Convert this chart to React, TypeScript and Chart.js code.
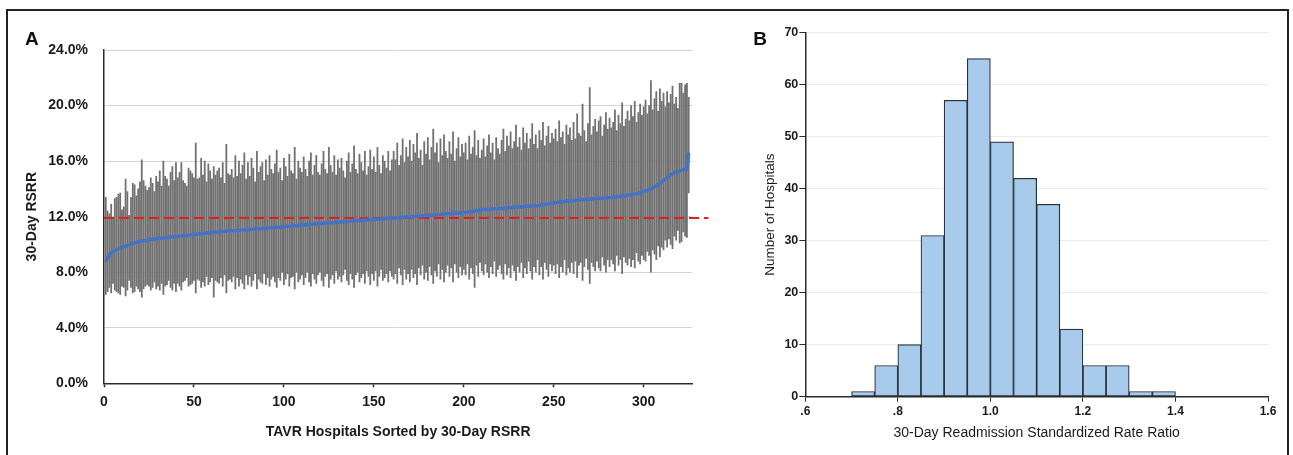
import React, { useEffect, useRef } from 'react';
import { Chart, registerables } from 'chart.js';

Chart.register(...registerables);

// ---------- Panel A: hospital RSRR (sorted) with 95% intervals ----------
const HOSPITAL_RSRR = [
  8.75, 9.05, 9.25, 9.38, 9.48, 9.56, 9.62, 9.68, 9.74, 9.79,
  9.84, 9.88, 9.93, 9.97, 10.02, 10.06, 10.10, 10.14, 10.18, 10.21,
  10.24, 10.26, 10.28, 10.30, 10.32, 10.34, 10.36, 10.38, 10.40, 10.42,
  10.44, 10.45, 10.47, 10.48, 10.50, 10.51, 10.53, 10.54, 10.56, 10.57,
  10.58, 10.60, 10.61, 10.62, 10.64, 10.65, 10.67, 10.68, 10.70, 10.72,
  10.73, 10.75, 10.76, 10.78, 10.79, 10.81, 10.82, 10.83, 10.85, 10.86,
  10.87, 10.88, 10.89, 10.90, 10.91, 10.93, 10.94, 10.95, 10.96, 10.97,
  10.98, 10.99, 11.00, 11.01, 11.02, 11.03, 11.04, 11.05, 11.06, 11.07,
  11.08, 11.09, 11.10, 11.11, 11.12, 11.13, 11.14, 11.15, 11.16, 11.17,
  11.18, 11.19, 11.20, 11.21, 11.22, 11.23, 11.24, 11.25, 11.27, 11.28,
  11.29, 11.30, 11.31, 11.33, 11.34, 11.35, 11.36, 11.37, 11.39, 11.40,
  11.41, 11.42, 11.43, 11.44, 11.45, 11.46, 11.47, 11.48, 11.49, 11.50,
  11.51, 11.52, 11.53, 11.54, 11.55, 11.56, 11.57, 11.58, 11.59, 11.60,
  11.61, 11.62, 11.63, 11.64, 11.65, 11.66, 11.67, 11.68, 11.69, 11.70,
  11.71, 11.72, 11.73, 11.74, 11.75, 11.76, 11.77, 11.78, 11.79, 11.80,
  11.81, 11.82, 11.82, 11.83, 11.84, 11.85, 11.86, 11.87, 11.88, 11.89,
  11.90, 11.91, 11.92, 11.93, 11.94, 11.95, 11.96, 11.97, 11.98, 11.99,
  12.00, 12.01, 12.02, 12.03, 12.04, 12.05, 12.06, 12.07, 12.08, 12.09,
  12.10, 12.11, 12.12, 12.13, 12.14, 12.15, 12.16, 12.17, 12.18, 12.19,
  12.20, 12.21, 12.22, 12.23, 12.24, 12.25, 12.26, 12.27, 12.28, 12.29,
  12.30, 12.32, 12.34, 12.36, 12.38, 12.40, 12.42, 12.44, 12.46, 12.48,
  12.50, 12.51, 12.52, 12.53, 12.54, 12.55, 12.56, 12.57, 12.58, 12.59,
  12.60, 12.61, 12.62, 12.63, 12.64, 12.65, 12.66, 12.67, 12.68, 12.69,
  12.70, 12.71, 12.72, 12.73, 12.74, 12.75, 12.76, 12.77, 12.78, 12.79,
  12.80, 12.82, 12.84, 12.86, 12.88, 12.90, 12.92, 12.94, 12.96, 12.98,
  13.00, 13.02, 13.04, 13.06, 13.08, 13.10, 13.12, 13.14, 13.15, 13.16,
  13.17, 13.18, 13.19, 13.20, 13.21, 13.22, 13.23, 13.24, 13.25, 13.26,
  13.27, 13.28, 13.29, 13.30, 13.31, 13.32, 13.33, 13.34, 13.35, 13.36,
  13.37, 13.38, 13.39, 13.40, 13.42, 13.44, 13.46, 13.48, 13.50, 13.52,
  13.54, 13.56, 13.58, 13.60, 13.63, 13.66, 13.69, 13.72, 13.76, 13.80,
  13.85, 13.90, 13.96, 14.02, 14.08, 14.15, 14.22, 14.30, 14.40, 14.50,
  14.60, 14.70, 14.80, 14.90, 15.00, 15.08, 15.14, 15.20, 15.25, 15.30,
  15.33, 15.36, 15.40, 15.45, 16.60,
];

const CI_UPPER = [
  13.4, 12.4, 12.2, 12.9, 11.9, 13.3, 13.4, 13.6, 13.7, 12.5,
  12.7, 14.7, 13.8, 12.1, 13.4, 14.4, 14.3, 13.5, 14.0, 14.5,
  16.1, 14.6, 14.2, 13.9, 14.1, 14.8, 14.4, 13.8, 14.9, 14.5,
  15.3, 14.2, 16.0, 14.9, 14.7, 14.2, 15.2, 15.6, 14.6, 15.9,
  14.8, 15.2, 15.9, 14.6, 14.4, 14.2, 15.5, 15.3, 15.1, 14.8,
  17.3, 14.7, 14.8, 16.2, 15.0, 16.0, 14.5, 15.8, 15.3, 14.7,
  15.6, 15.0, 15.3, 15.5, 14.8, 15.9, 14.4, 17.2, 15.1, 15.0,
  15.4, 14.8, 16.4, 14.9, 16.0, 15.1, 15.7, 16.6, 14.7, 15.9,
  14.9, 16.2, 15.5, 14.5, 16.7, 15.2, 15.6, 15.9, 14.6, 16.1,
  15.0, 16.4, 15.4, 15.1, 15.8, 16.8, 15.2, 15.5, 14.6, 16.2,
  15.6, 14.9, 16.5, 15.3, 15.1, 17.0, 14.7, 16.0, 15.5, 15.2,
  16.3, 15.4, 14.9, 16.0, 16.6, 15.0, 15.7, 16.4, 15.2, 15.0,
  15.8, 16.7, 15.4, 15.1, 17.0, 15.7, 15.2, 16.4, 15.0, 16.1,
  15.5, 16.2, 15.3, 14.8, 16.0, 16.6, 15.2, 15.8, 17.1, 15.4,
  15.1, 16.5, 15.9, 15.3, 16.7, 15.0, 15.6, 16.8, 15.4, 16.3,
  15.2, 17.0, 15.7, 15.1, 16.4, 16.0, 15.5, 16.7, 15.3, 16.1,
  16.7, 16.1, 17.3, 15.7, 16.4, 17.6, 15.9, 17.0, 16.3, 17.5,
  16.0, 17.2, 16.6, 18.0, 16.2, 16.8, 15.7, 17.4, 16.5, 17.7,
  16.1, 17.0, 18.3, 16.6, 17.3, 15.9, 17.6, 16.4, 17.9, 16.7,
  16.2, 17.4, 16.5, 18.1, 16.0, 16.9, 17.7, 16.3, 17.2, 16.6,
  17.3, 16.1, 17.8, 16.5, 17.0, 18.2, 16.4, 17.5, 16.2, 16.8,
  17.6, 16.3, 17.1, 17.9, 16.6, 17.3, 16.1, 17.7, 16.9, 16.5,
  17.5, 18.3, 16.7, 17.8, 17.1, 18.1, 16.9, 17.4, 18.6, 17.0,
  17.7, 16.8, 18.4, 17.3, 18.0, 16.9, 17.6, 18.7, 17.2, 17.9,
  16.9, 18.2, 17.5, 18.8, 17.1, 17.8, 18.5, 17.3, 18.0, 17.6,
  18.3, 17.4, 18.9, 17.7, 18.1, 17.2, 18.6, 17.9, 18.4, 17.5,
  18.8, 17.6, 19.4, 18.0, 17.8, 20.1, 18.2, 17.4, 18.7, 21.3,
  17.9, 18.5, 19.0, 18.1, 18.9, 19.2, 17.8, 18.6, 19.5, 18.3,
  19.1, 18.4, 18.8, 19.7, 18.2, 19.3, 18.7, 20.2, 18.5, 19.0,
  19.6, 18.9, 20.0, 19.2, 20.3, 18.8, 19.5, 20.1, 19.3, 19.9,
  20.4, 19.4, 20.0, 21.8, 19.7, 20.5, 21.0, 19.6, 21.2, 20.3,
  20.9, 19.9, 21.0, 20.2, 20.8, 21.4, 20.1, 20.6, 19.8, 21.6,
  21.6, 20.9, 21.5, 21.6, 20.6,
];

const CI_LOWER = [
  6.4, 6.6, 6.9, 6.5, 7.2, 6.7, 6.6, 6.5, 6.4, 7.0,
  6.9, 6.3, 6.7, 7.4, 6.9, 6.5, 6.6, 7.0, 6.8, 6.6,
  6.2, 6.8, 7.0, 7.1, 7.0, 6.7, 6.9, 7.3, 6.8, 7.0,
  6.7, 7.2, 6.4, 7.0, 7.1, 7.4, 6.9, 6.7, 7.2, 6.6,
  7.2, 7.0, 6.7, 7.3, 7.4, 7.6, 7.0, 7.1, 7.2, 7.4,
  6.5, 7.5, 7.4, 6.9, 7.3, 7.0, 7.7, 7.1, 7.3, 7.6,
  6.2, 7.4, 7.3, 7.2, 7.6, 7.0, 7.8, 6.5, 7.4, 7.5,
  7.3, 7.7, 6.8, 7.6, 7.0, 7.5, 7.2, 6.8, 7.8, 7.1,
  7.7, 7.0, 7.4, 7.9, 6.8, 7.5, 7.3, 7.2, 7.9, 7.1,
  7.6, 7.0, 7.5, 7.7, 7.3, 6.9, 7.6, 7.4, 8.0, 7.1,
  7.5, 7.9, 7.0, 7.6, 7.7, 6.8, 8.0, 7.3, 7.5, 7.8,
  7.1, 7.6, 8.0, 7.3, 7.0, 7.9, 7.5, 7.2, 7.8, 8.0,
  7.4, 7.0, 7.7, 7.9, 6.9, 7.5, 7.8, 7.2, 8.1, 7.5,
  7.7, 7.3, 7.8, 8.2, 7.4, 7.1, 7.9, 7.5, 6.9, 7.8,
  8.0, 7.3, 7.6, 7.9, 7.2, 8.1, 7.7, 7.1, 7.9, 7.4,
  8.1, 7.0, 7.7, 8.2, 7.4, 7.6, 7.9, 7.3, 8.1, 7.7,
  7.5, 7.9, 7.2, 8.3, 7.8, 7.1, 8.2, 7.5, 7.9, 7.3,
  8.2, 7.6, 7.9, 7.1, 8.3, 7.8, 8.5, 7.5, 8.0, 7.4,
  8.4, 7.8, 7.2, 8.1, 7.7, 8.6, 7.5, 8.2, 7.3, 8.0,
  8.5, 7.7, 8.3, 7.3, 8.6, 8.0, 7.6, 8.4, 7.8, 8.2,
  7.8, 8.6, 7.5, 8.3, 7.9, 6.9, 8.5, 7.7, 8.7, 8.1,
  7.8, 8.6, 8.0, 7.6, 8.4, 7.9, 8.8, 7.7, 8.2, 8.5,
  7.9, 7.5, 8.6, 7.8, 8.3, 7.6, 8.5, 8.1, 7.4, 8.4,
  8.0, 8.7, 7.6, 8.3, 7.9, 8.8, 8.1, 7.5, 8.4, 8.0,
  8.9, 7.8, 8.4, 7.5, 8.7, 8.2, 7.7, 8.6, 8.1, 8.5,
  7.9, 8.6, 7.6, 8.4, 8.0, 8.9, 7.8, 8.3, 8.0, 8.7,
  7.9, 8.8, 7.6, 8.5, 8.7, 7.4, 8.4, 9.0, 8.2, 7.2,
  8.7, 8.4, 8.1, 8.8, 8.3, 8.1, 9.1, 8.5, 8.0, 8.9,
  8.4, 8.9, 8.6, 8.1, 9.2, 8.5, 8.9, 7.9, 9.1, 8.7,
  8.5, 9.0, 8.4, 8.9, 8.3, 9.4, 8.8, 8.6, 9.2, 8.9,
  8.8, 9.5, 9.2, 8.0, 9.6, 9.3, 8.9, 9.9, 9.1, 9.8,
  9.6, 10.3, 9.8, 10.4, 10.0, 9.7, 10.6, 10.3, 11.0, 10.1,
  10.2, 10.9, 10.6, 10.5, 13.7,
];

const NATIONAL_RSRR = 11.9;
const NATIONAL_LINE_X = [0, 336];
const A_X_MAX = 327;
const A_X_STEP = 50;
const A_Y_MAX = 24;
const A_Y_STEP = 4;

// ---------- Panel B: histogram of standardized rate ratio ----------
const BIN_STARTS = [0.70, 0.75, 0.80, 0.85, 0.90, 0.95, 1.00, 1.05, 1.10, 1.15, 1.20, 1.25, 1.30, 1.35];
const BIN_COUNTS = [1, 6, 10, 31, 57, 65, 49, 42, 37, 13, 6, 6, 1, 1];
const BIN_WIDTH = 0.05;
const B_X_MIN = 0.6;
const B_X_MAX = 1.6;
const B_X_STEP = 0.2;
const B_Y_MAX = 70;
const B_Y_STEP = 10;

const FONT = "'Liberation Sans', Arial, Helvetica, sans-serif";
const TEXT = '#1b1b1b';
const AXIS = '#2b2b2b';

function PanelA() {
  const ref = useRef<HTMLCanvasElement | null>(null);
  useEffect(() => {
    if (!ref.current) return;
    const chart = new Chart(ref.current, {
      type: 'bar',
      data: {
        datasets: [
          {
            type: 'line',
            label: '30-Day RSRR',
            data: HOSPITAL_RSRR.map((v, i) => ({ x: i + 1, y: v })),
            borderColor: '#4472c4',
            borderWidth: 3.5,
            pointRadius: 0,
            tension: 0,
            order: 1,
          } as any,
          {
            type: 'line',
            label: 'National RSRR',
            data: NATIONAL_LINE_X.map((x) => ({ x, y: NATIONAL_RSRR })),
            borderColor: '#e3211c',
            borderWidth: 2,
            borderDash: [10, 5],
            pointRadius: 0,
            clip: false,
            order: 2,
          } as any,
          {
            type: 'bar',
            label: '95% interval',
            data: CI_LOWER.map((lo, i) => ({ x: i + 1, y: [lo, CI_UPPER[i]] })),
            backgroundColor: '#717171',
            barThickness: 1.15,
            order: 3,
          } as any,
        ],
      },
      options: {
        responsive: false,
        animation: false,
        layout: { padding: { left: 0, top: 38, right: 22.7, bottom: 0 } },
        plugins: { legend: { display: false }, tooltip: { enabled: false } },
        scales: {
          x: {
            type: 'linear',
            min: 0,
            max: A_X_MAX,
            offset: false,
            ticks: {
              stepSize: A_X_STEP,
              includeBounds: false,
              padding: 6,
              maxRotation: 0,
              color: TEXT,
              font: { family: FONT, size: 14, weight: 'bold' },
            },
            grid: { offset: false, drawOnChartArea: false, drawTicks: true, tickLength: 4, tickColor: AXIS, tickWidth: 1.5 },
            border: { display: true, color: AXIS, width: 1.5 },
            title: {
              display: true,
              text: 'TAVR Hospitals Sorted by 30-Day RSRR',
              color: TEXT,
              font: { family: FONT, size: 14, weight: 'bold' },
              padding: { top: 0, bottom: 11.3 },
            },
            afterFit: (s: any) => { s.height = 68.7; },
          } as any,
          y: {
            min: 0,
            max: A_Y_MAX,
            ticks: {
              stepSize: A_Y_STEP,
              padding: 16,
              color: TEXT,
              font: { family: FONT, size: 14, weight: 'bold' },
              callback: (v: any) => Number(v).toFixed(1) + '%',
            },
            grid: { color: '#d4d4d4', lineWidth: 1, drawTicks: false },
            border: { display: true, color: AXIS, width: 1.5 },
            title: {
              display: true,
              text: '30-Day RSRR',
              color: TEXT,
              font: { family: FONT, size: 14, weight: 'bold' },
              padding: { top: 13.6, bottom: 0 },
            },
            afterFit: (s: any) => { s.width = 94; },
          } as any,
        },
      } as any,
    });
    return () => chart.destroy();
  }, []);
  return <canvas ref={ref} width={705} height={440} style={{ width: 705, height: 440, display: 'block' }} />;
}

function fmtRatio(v: any) {
  const s = Number(v).toFixed(1);
  return s.startsWith('0') ? s.slice(1) : s;
}

function PanelB() {
  const ref = useRef<HTMLCanvasElement | null>(null);
  useEffect(() => {
    if (!ref.current) return;
    const chart = new Chart(ref.current, {
      type: 'bar',
      data: {
        datasets: [
          {
            label: 'Number of Hospitals',
            data: BIN_STARTS.map((s, i) => ({ x: s + BIN_WIDTH / 2, y: BIN_COUNTS[i] })),
            backgroundColor: '#a9cbeb',
            borderColor: '#27313a',
            borderWidth: 1.2,
            borderSkipped: false,
            categoryPercentage: 1,
            barPercentage: 1,
          } as any,
        ],
      },
      options: {
        responsive: false,
        animation: false,
        layout: { padding: { left: 0, top: 20.7, right: 17, bottom: 0 } },
        plugins: { legend: { display: false }, tooltip: { enabled: false } },
        scales: {
          x: {
            type: 'linear',
            min: B_X_MIN,
            max: B_X_MAX,
            offset: false,
            ticks: {
              stepSize: B_X_STEP,
              padding: 3,
              maxRotation: 0,
              color: TEXT,
              font: { family: FONT, size: 12, weight: 'bold' },
              callback: fmtRatio,
            },
            grid: { offset: false, drawOnChartArea: false, drawTicks: true, tickLength: 5, tickColor: AXIS },
            border: { display: true, color: AXIS, width: 1.5 },
            title: {
              display: true,
              text: '30-Day Readmission Standardized Rate Ratio',
              color: TEXT,
              font: { family: FONT, size: 14 },
              padding: { top: 0, bottom: 10.3 },
            },
            afterFit: (s: any) => { s.height = 55.3; },
          } as any,
          y: {
            min: 0,
            max: B_Y_MAX,
            ticks: {
              stepSize: B_Y_STEP,
              padding: 1,
              color: TEXT,
              font: { family: FONT, size: 12.5, weight: 'bold' },
            },
            grid: { color: '#ebebeb', lineWidth: 1, drawTicks: true, tickLength: 6, tickColor: AXIS },
            border: { display: true, color: AXIS, width: 1.5 },
            title: {
              display: true,
              text: 'Number of Hospitals',
              color: TEXT,
              font: { family: FONT, size: 13.5 },
              padding: { top: 41.9, bottom: 0 },
            },
            afterFit: (s: any) => { s.width = 85.3; },
          } as any,
        },
      } as any,
    });
    return () => chart.destroy();
  }, []);
  return <canvas ref={ref} width={565} height={440} style={{ width: 565, height: 440, display: 'block' }} />;
}

const panelLetter: React.CSSProperties = {
  position: 'absolute',
  fontFamily: FONT,
  fontWeight: 'bold',
  fontSize: 19,
  lineHeight: '19px',
  color: '#111',
};

export default function App() {
  return (
    <div style={{ position: 'fixed', left: 0, top: 0, width: 1293, height: 455, overflow: 'hidden', background: '#fff' }}>
      <div style={{ position: 'absolute', left: 6, top: 9, width: 1283, height: 470, border: '2px solid #222', boxSizing: 'border-box' }} />
      <div style={{ position: 'absolute', left: 10, top: 12 }}><PanelA /></div>
      <div style={{ position: 'absolute', left: 720, top: 12 }}><PanelB /></div>
      <div style={{ ...panelLetter, left: 25, top: 29.2 }}>A</div>
      <div style={{ ...panelLetter, left: 753.3, top: 29.2 }}>B</div>
    </div>
  );
}
